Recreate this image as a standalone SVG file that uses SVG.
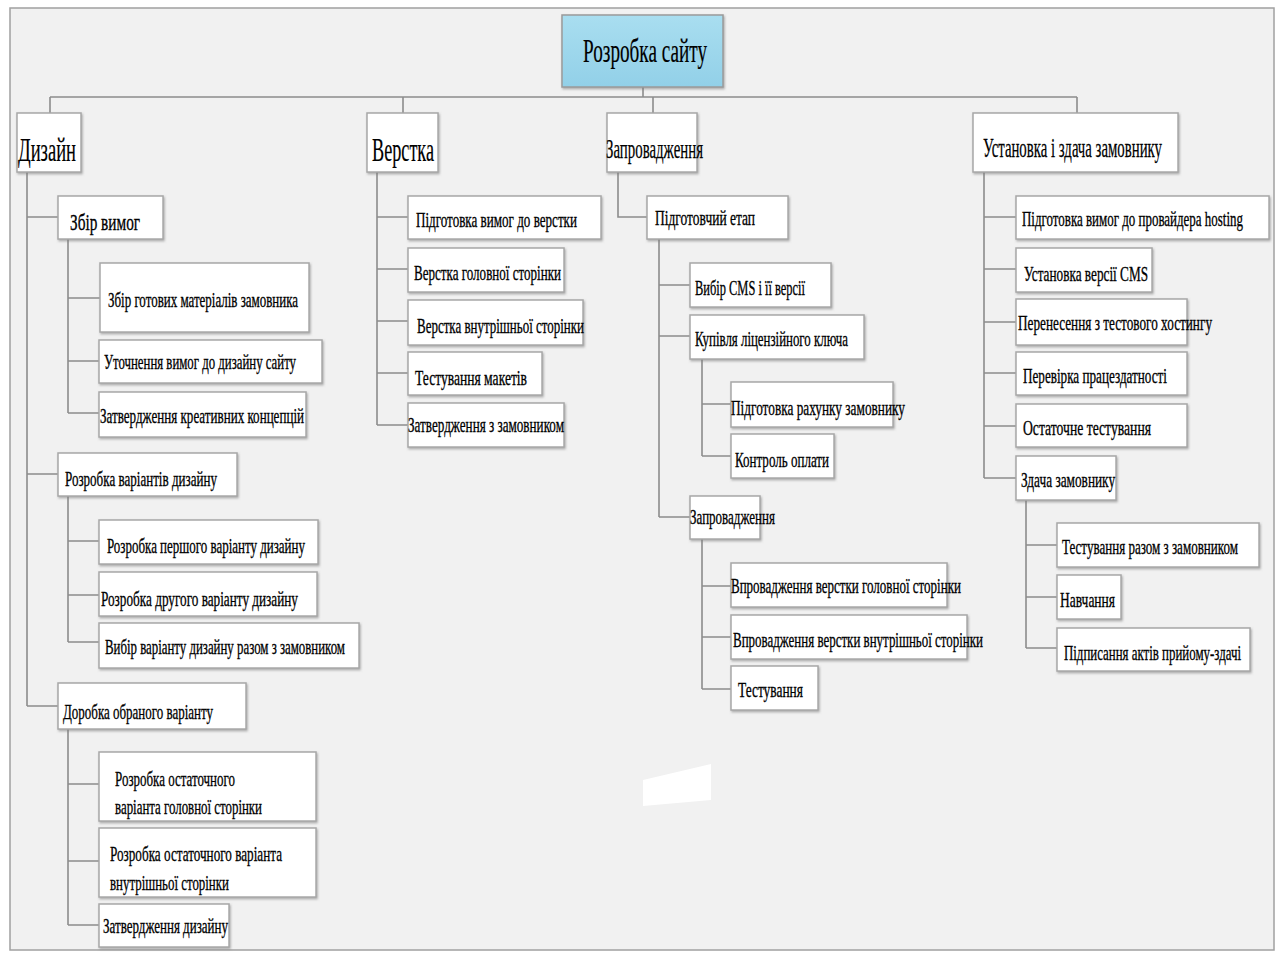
<svg xmlns="http://www.w3.org/2000/svg" width="1280" height="954" viewBox="0 0 1280 954">
<defs>
<linearGradient id="rootFill" x1="0" y1="0" x2="0" y2="1">
<stop offset="0" stop-color="#a9def0"/>
<stop offset="1" stop-color="#92d0e8"/>
</linearGradient>
<filter id="sh" x="-5%" y="-10%" width="115%" height="130%">
<feDropShadow dx="1" dy="1.5" stdDeviation="0.8" flood-color="#7a7a7a" flood-opacity="0.6"/>
</filter>
</defs>
<style>
.box{fill:#ffffff;stroke:#a8a8a8;stroke-width:1.5;filter:url(#sh)}
.root{fill:url(#rootFill);stroke:#9a9a9a;stroke-width:1.5;filter:url(#sh)}
.t{font-family:"Liberation Serif","DejaVu Serif",serif;fill:#000;font-size:22px;stroke:#000;stroke-width:0.35}
.tl{font-size:34px;stroke-width:0.2}
.tm{font-size:27px;stroke-width:0.25}
.ts{font-size:24px}
.sx{transform:scale(0.6,1)}
.c{fill:none;stroke:#8c8c8c;stroke-width:1.6}
</style>
<rect x="0" y="0" width="1280" height="954" fill="#ffffff"/>
<rect x="10" y="8" width="1264" height="942" fill="#f1f1f1" stroke="#a0a0a0" stroke-width="1.5"/>
<polygon points="643,780 711,764 711,800 643,806" fill="#ffffff"/>

<g id="connectors">
<path class="c" d="M643,87V97M50,97H1077M50,97V113M403,97V113M653,97V113M1077,97V113"/>
<path class="c" d="M27,172V706M27,217H58M27,474H58M27,706H58"/>
<path class="c" d="M68,239V413M68,298H100M68,361H99M68,413H99"/>
<path class="c" d="M68,496V642M68,541H99M68,595H99M68,642H99"/>
<path class="c" d="M68,729V925M68,784H99M68,861H99M68,925H99"/>
<path class="c" d="M377,172V425M377,217H408M377,269H408M377,321H408M377,373H408M377,425H408"/>
<path class="c" d="M618,172V217H647"/>
<path class="c" d="M659,239V517M659,285H690M659,336H690M659,517H690"/>
<path class="c" d="M702,359V456M702,404H731M702,456H731"/>
<path class="c" d="M702,539V689M702,586H731M702,637H731M702,689H731"/>
<path class="c" d="M984,172V478M984,217H1016M984,269H1016M984,322H1016M984,373H1016M984,426H1016M984,478H1016"/>
<path class="c" d="M1026,500V648M1026,545H1057M1026,597H1057M1026,648H1057"/>
</g>

<g id="root"><rect class="root" x="562" y="15" width="161" height="72"/><text class="t tl" x="583" y="62" textLength="124" lengthAdjust="spacingAndGlyphs">Розробка сайту</text></g>

<g id="n-dyzain"><rect class="box" x="17" y="113" width="64" height="59"/><text class="t tl" x="18" y="161" textLength="58" lengthAdjust="spacingAndGlyphs">Дизайн</text></g>
<g id="n-verstka"><rect class="box" x="367" y="113" width="71" height="59"/><text class="t tl" x="372" y="161" textLength="62" lengthAdjust="spacingAndGlyphs">Верстка</text></g>
<g id="n-zaprovadzhennia"><rect class="box" x="607" y="113" width="90" height="59"/><text class="t tm" x="606" y="158" textLength="97" lengthAdjust="spacingAndGlyphs">Запровадження</text></g>
<g id="n-ustanovka"><rect class="box" x="973" y="113" width="205" height="59"/><text class="t tm sx" x="1638.3" y="157" textLength="298.3" lengthAdjust="spacingAndGlyphs">Установка і здача замовнику</text></g>

<g id="n-zbir"><rect class="box" x="58" y="196" width="105" height="43"/><text class="t ts sx" x="116.7" y="230" textLength="116.7" lengthAdjust="spacingAndGlyphs">Збір вимог</text></g>
<g id="n-zbir-gotovykh"><rect class="box" x="100" y="263" width="209" height="69"/><text class="t sx" x="180" y="307" textLength="316.7" lengthAdjust="spacingAndGlyphs">Збір готових матеріалів замовника</text></g>
<g id="n-utochnennia"><rect class="box" x="99" y="340" width="223" height="43"/><text class="t sx" x="173.3" y="369" textLength="320" lengthAdjust="spacingAndGlyphs">Уточнення вимог до дизайну сайту</text></g>
<g id="n-zatv-kreat"><rect class="box" x="99" y="392" width="207" height="45"/><text class="t sx" x="166.7" y="423" textLength="340" lengthAdjust="spacingAndGlyphs">Затвердження креативних концепцій</text></g>
<g id="n-rozrobka-variantiv"><rect class="box" x="58" y="453" width="179" height="43"/><text class="t sx" x="108.3" y="486" textLength="253.3" lengthAdjust="spacingAndGlyphs">Розробка варіантів дизайну</text></g>
<g id="n-pershyi"><rect class="box" x="99" y="520" width="219" height="44"/><text class="t sx" x="178.3" y="553" textLength="330" lengthAdjust="spacingAndGlyphs">Розробка першого варіанту дизайну</text></g>
<g id="n-druhyi"><rect class="box" x="99" y="572" width="218" height="44"/><text class="t sx" x="168.3" y="606" textLength="328.3" lengthAdjust="spacingAndGlyphs">Розробка другого варіанту дизайну</text></g>
<g id="n-vybir-variantu"><rect class="box" x="99" y="623" width="260" height="45"/><text class="t sx" x="175" y="654" textLength="400" lengthAdjust="spacingAndGlyphs">Вибір варіанту дизайну разом з замовником</text></g>
<g id="n-dorobka"><rect class="box" x="58" y="683" width="188" height="46"/><text class="t sx" x="105" y="719" textLength="250" lengthAdjust="spacingAndGlyphs">Доробка обраного варіанту</text></g>
<g id="n-ostat-holovna"><rect class="box" x="99" y="752" width="217" height="69"/><text class="t sx" x="191.7" y="786" textLength="200" lengthAdjust="spacingAndGlyphs">Розробка остаточного</text><text class="t sx" x="191.7" y="814" textLength="245" lengthAdjust="spacingAndGlyphs">варіанта головної сторінки</text></g>
<g id="n-ostat-vnutr"><rect class="box" x="99" y="828" width="217" height="69"/><text class="t sx" x="183.3" y="861" textLength="286.7" lengthAdjust="spacingAndGlyphs">Розробка остаточного варіанта</text><text class="t sx" x="183.3" y="890" textLength="198.3" lengthAdjust="spacingAndGlyphs">внутрішньої сторінки</text></g>
<g id="n-zatv-dyzainu"><rect class="box" x="99" y="904" width="130" height="43"/><text class="t sx" x="171.7" y="933" textLength="208.3" lengthAdjust="spacingAndGlyphs">Затвердження дизайну</text></g>

<g id="n-pidg-verstky"><rect class="box" x="408" y="196" width="193" height="43"/><text class="t sx" x="693.3" y="227" textLength="268.3" lengthAdjust="spacingAndGlyphs">Підготовка вимог до верстки</text></g>
<g id="n-verstka-holovnoi"><rect class="box" x="408" y="248" width="156" height="44"/><text class="t sx" x="690" y="280" textLength="245" lengthAdjust="spacingAndGlyphs">Верстка головної сторінки</text></g>
<g id="n-verstka-vnutr"><rect class="box" x="408" y="300" width="175" height="45"/><text class="t sx" x="695" y="333" textLength="278.3" lengthAdjust="spacingAndGlyphs">Верстка внутрішньої сторінки</text></g>
<g id="n-test-maketiv"><rect class="box" x="408" y="352" width="134" height="43"/><text class="t sx" x="691.7" y="385" textLength="186.7" lengthAdjust="spacingAndGlyphs">Тестування макетів</text></g>
<g id="n-zatv-zamovn"><rect class="box" x="408" y="403" width="156" height="44"/><text class="t sx" x="680" y="432" textLength="260" lengthAdjust="spacingAndGlyphs">Затвердження з замовником</text></g>

<g id="n-pidgotovchyi"><rect class="box" x="647" y="196" width="141" height="43"/><text class="t sx" x="1091.7" y="225" textLength="166.7" lengthAdjust="spacingAndGlyphs">Підготовчий етап</text></g>
<g id="n-vybir-cms"><rect class="box" x="690" y="263" width="141" height="44"/><text class="t sx" x="1158.3" y="295" textLength="183.3" lengthAdjust="spacingAndGlyphs">Вибір CMS і її версії</text></g>
<g id="n-kupivlia"><rect class="box" x="690" y="315" width="174" height="44"/><text class="t sx" x="1158.3" y="346" textLength="255" lengthAdjust="spacingAndGlyphs">Купівля ліцензійного ключа</text></g>
<g id="n-rakhunok"><rect class="box" x="731" y="382" width="162" height="45"/><text class="t sx" x="1218.3" y="415" textLength="290" lengthAdjust="spacingAndGlyphs">Підготовка рахунку замовнику</text></g>
<g id="n-kontrol"><rect class="box" x="731" y="434" width="103" height="44"/><text class="t sx" x="1225" y="467" textLength="156.7" lengthAdjust="spacingAndGlyphs">Контроль оплати</text></g>
<g id="n-zaprov-sub"><rect class="box" x="690" y="496" width="70" height="43"/><text class="t sx" x="1150" y="524" textLength="141.7" lengthAdjust="spacingAndGlyphs">Запровадження</text></g>
<g id="n-vprov-holovnoi"><rect class="box" x="731" y="563" width="216" height="44"/><text class="t sx" x="1218.3" y="593" textLength="383.3" lengthAdjust="spacingAndGlyphs">Впровадження верстки головної сторінки</text></g>
<g id="n-vprov-vnutr"><rect class="box" x="731" y="615" width="236" height="44"/><text class="t sx" x="1221.7" y="647" textLength="416.7" lengthAdjust="spacingAndGlyphs">Впровадження верстки внутрішньої сторінки</text></g>
<g id="n-testuvannia"><rect class="box" x="731" y="666" width="87" height="44"/><text class="t sx" x="1230" y="697" textLength="108.3" lengthAdjust="spacingAndGlyphs">Тестування</text></g>

<g id="n-hosting"><rect class="box" x="1016" y="196" width="253" height="43"/><text class="t sx" x="1703.3" y="226" textLength="368.3" lengthAdjust="spacingAndGlyphs">Підготовка вимог до провайдера hosting</text></g>
<g id="n-ust-cms"><rect class="box" x="1016" y="248" width="136" height="44"/><text class="t sx" x="1706.7" y="281" textLength="206.7" lengthAdjust="spacingAndGlyphs">Установка версії CMS</text></g>
<g id="n-perenesennia"><rect class="box" x="1016" y="299" width="171" height="46"/><text class="t sx" x="1696.7" y="330" textLength="323.3" lengthAdjust="spacingAndGlyphs">Перенесення з тестового хостингу</text></g>
<g id="n-perevirka"><rect class="box" x="1016" y="352" width="171" height="43"/><text class="t sx" x="1705" y="383" textLength="240" lengthAdjust="spacingAndGlyphs">Перевірка працездатності</text></g>
<g id="n-ostatochne"><rect class="box" x="1016" y="404" width="171" height="43"/><text class="t sx" x="1705" y="435" textLength="213.3" lengthAdjust="spacingAndGlyphs">Остаточне тестування</text></g>
<g id="n-zdacha"><rect class="box" x="1016" y="456" width="100" height="44"/><text class="t sx" x="1701.7" y="487" textLength="156.7" lengthAdjust="spacingAndGlyphs">Здача замовнику</text></g>
<g id="n-test-razom"><rect class="box" x="1057" y="523" width="202" height="44"/><text class="t sx" x="1770" y="554" textLength="293.3" lengthAdjust="spacingAndGlyphs">Тестування разом з замовником</text></g>
<g id="n-navchannia"><rect class="box" x="1057" y="575" width="64" height="44"/><text class="t sx" x="1766.7" y="607" textLength="91.7" lengthAdjust="spacingAndGlyphs">Навчання</text></g>
<g id="n-pidpysannia"><rect class="box" x="1057" y="628" width="193" height="43"/><text class="t sx" x="1773.3" y="660" textLength="295" lengthAdjust="spacingAndGlyphs">Підписання актів прийому-здачі</text></g>
</svg>
